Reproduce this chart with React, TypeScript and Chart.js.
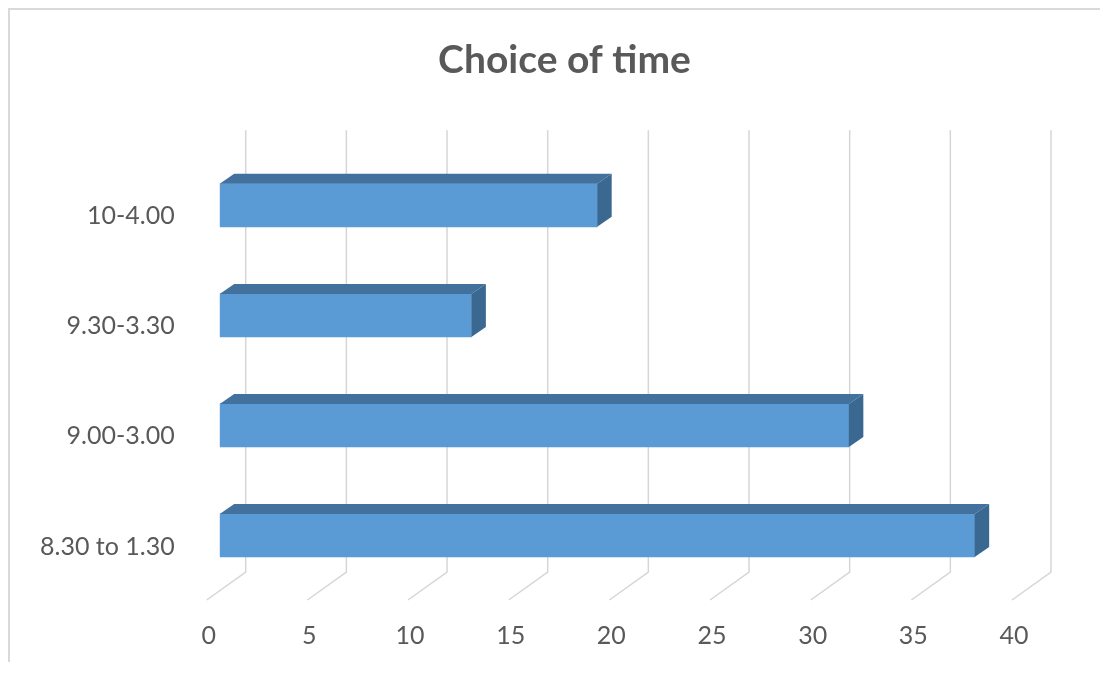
import React, { useEffect, useRef } from 'react';
import { Chart, registerables } from 'chart.js';

Chart.register(...registerables);

// Survey shares (per cent) for each school-day slot, bottom row first.
const categories = ['8.30 to 1.30', '9.00-3.00', '9.30-3.30', '10-4.00'];
const shares = [37.5, 31.25, 12.5, 18.75];
const axisMin = 0;
const axisMax = 40;
const axisStep = 5;
const chartTitle = 'Choice of time';

const W = 1092;
const H = 657;
const TEXT = '#595959';
const GRID = '#d6d6d6';
const FRONT = '#5b9bd5';
const TOP = '#41719c';
const SIDE = '#3a6891';

// Oblique offsets relative to the plane of the bars' front faces.
const BAR_DEPTH = { dx: 14.5, dy: -10 };
const WALL = { dx: 26, dy: -18.5 };
const FLOOR = { dx: -13, dy: 9.5 };

const depthPlugin = {
  id: 'depth3d',
  beforeDraw(chart: any) {
    const { ctx } = chart;
    ctx.save();
    ctx.fillStyle = '#ffffff';
    ctx.fillRect(0, 0, chart.width, chart.height);
    ctx.strokeStyle = '#d9d9d9';
    ctx.lineWidth = 2;
    ctx.beginPath();
    ctx.moveTo(1, H - 3);
    ctx.lineTo(1, 1);
    ctx.lineTo(chart.width, 1);
    ctx.stroke();
    ctx.restore();
  },
  beforeDatasetsDraw(chart: any) {
    const { ctx, chartArea } = chart;
    const xs = chart.scales.x;
    ctx.save();
    ctx.strokeStyle = GRID;
    ctx.lineWidth = 1.5;
    for (const t of xs.ticks) {
      const px = xs.getPixelForValue(t.value);
      ctx.beginPath();
      ctx.moveTo(px + WALL.dx, chartArea.top - 20);
      ctx.lineTo(px + WALL.dx, chartArea.bottom + WALL.dy);
      ctx.lineTo(px + FLOOR.dx, chartArea.bottom + FLOOR.dy);
      ctx.stroke();
    }
    ctx.restore();
  },
  afterDatasetsDraw(chart: any) {
    const { ctx } = chart;
    const meta = chart.getDatasetMeta(0);
    ctx.save();
    for (const el of meta.data) {
      const { x, y, base, height } = el.getProps(['x', 'y', 'base', 'height'], true);
      const top = y - height / 2;
      const bottom = y + height / 2;
      const { dx, dy } = BAR_DEPTH;
      // top face
      ctx.fillStyle = TOP;
      ctx.beginPath();
      ctx.moveTo(base, top);
      ctx.lineTo(base + dx, top + dy);
      ctx.lineTo(x + dx, top + dy);
      ctx.lineTo(x, top);
      ctx.closePath();
      ctx.fill();
      // end face
      ctx.fillStyle = SIDE;
      ctx.beginPath();
      ctx.moveTo(x, top);
      ctx.lineTo(x + dx, top + dy);
      ctx.lineTo(x + dx, bottom + dy);
      ctx.lineTo(x, bottom);
      ctx.closePath();
      ctx.fill();
    }
    ctx.restore();
  },
  afterDraw(chart: any) {
    const { ctx } = chart;
    ctx.save();
    ctx.fillStyle = TEXT;
    ctx.font = 'bold 39px Lato';
    ctx.textAlign = 'center';
    ctx.textBaseline = 'middle';
    ctx.fillText(chartTitle, 556.5, 52);
    ctx.restore();
  },
};

export default function App() {
  const canvasRef = useRef<HTMLCanvasElement | null>(null);

  useEffect(() => {
    if (!canvasRef.current) return;
    const chart = new Chart(canvasRef.current, {
      type: 'bar',
      data: {
        labels: categories,
        datasets: [
          {
            data: shares,
            backgroundColor: FRONT,
            borderWidth: 0,
            barThickness: 43,
          },
        ],
      },
      plugins: [depthPlugin],
      options: {
        indexAxis: 'y',
        responsive: false,
        animation: false,
        devicePixelRatio: 1,
        layout: { padding: { left: 0, right: 75, top: 142.3, bottom: 0 } },
        plugins: {
          legend: { display: false },
          tooltip: { enabled: false },
          title: { display: false },
        },
        scales: {
          x: {
            type: 'linear',
            min: axisMin,
            max: axisMax,
            ticks: {
              stepSize: axisStep,
              color: TEXT,
              font: { family: 'Lato', size: 25 },
              padding: 22,
              labelOffset: -11,
            },
            grid: { display: false },
            border: { display: false },
            afterFit(scale: any) {
              scale.height = 74.5;
            },
          },
          y: {
            type: 'category',
            reverse: true,
            ticks: {
              color: TEXT,
              font: { family: 'Lato', size: 25 },
              padding: 37,
              labelOffset: 11,
            },
            grid: { display: false },
            border: { display: false },
            afterFit(scale: any) {
              scale.width = 211.7;
            },
          },
        },
      },
    });
    return () => chart.destroy();
  }, []);

  return (
    <div style={{ width: W, height: H }}>
      <canvas ref={canvasRef} width={W} height={H} style={{ display: 'block', width: W, height: H }} />
    </div>
  );
}
